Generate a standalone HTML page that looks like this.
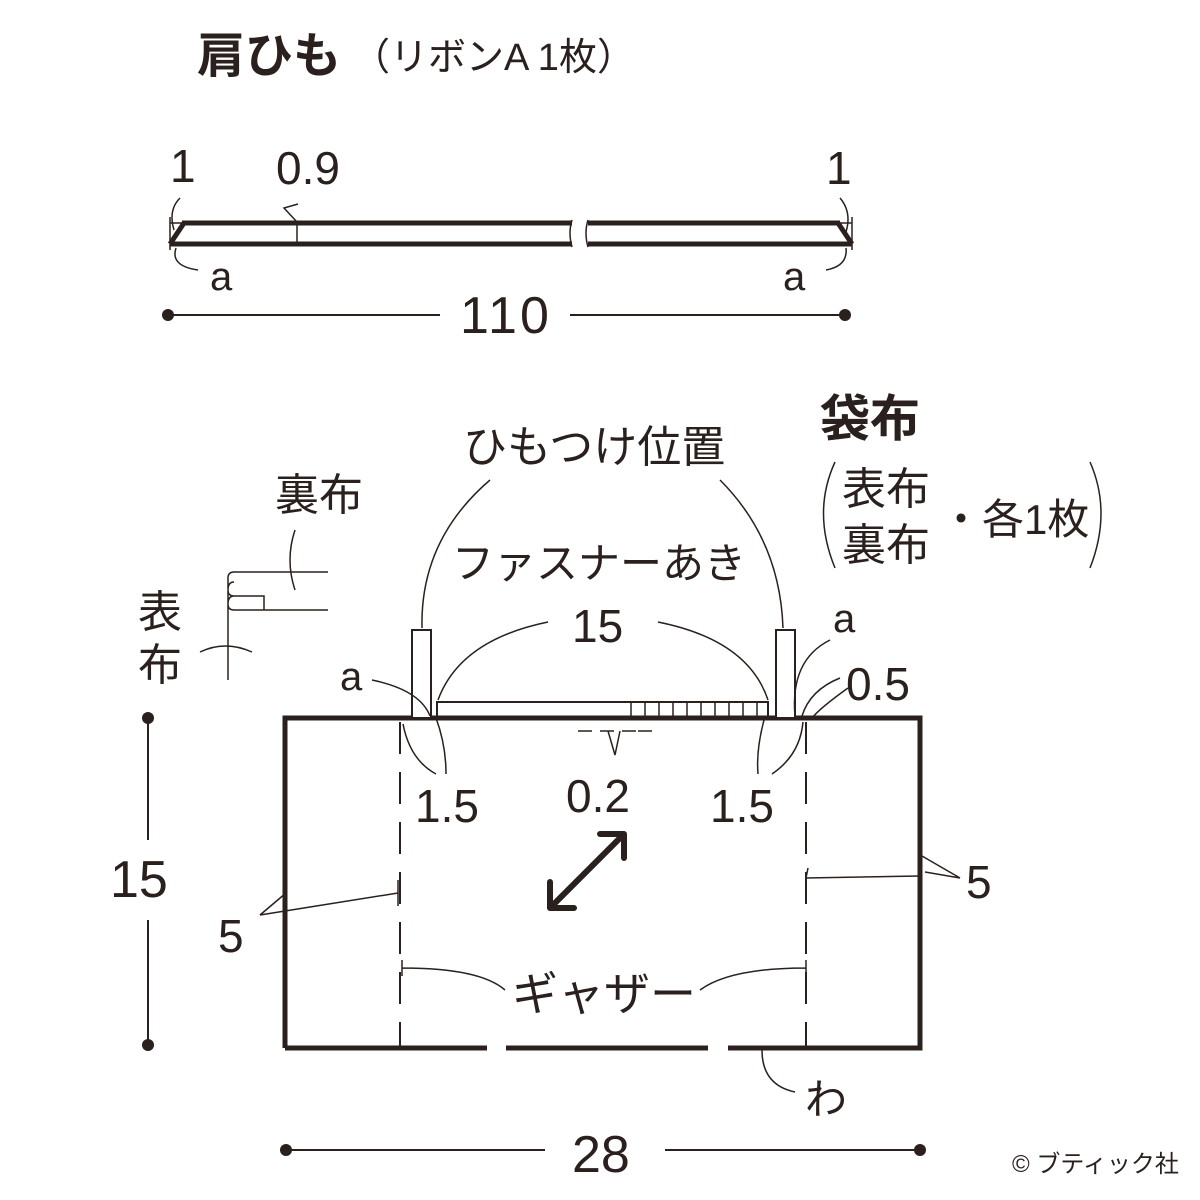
<!DOCTYPE html>
<html><head><meta charset="utf-8"><style>
html,body{margin:0;padding:0;background:#fff}
svg{display:block}
text{font-family:"Liberation Sans","Noto Sans CJK JP",sans-serif;fill:#2a201d}
</style></head><body>
<svg width="1200" height="1200" viewBox="0 0 1200 1200" xmlns="http://www.w3.org/2000/svg">
<g stroke="#2a201d" fill="none" stroke-linecap="butt">
<line x1="170" y1="223" x2="182" y2="223" stroke-width="1.5"/>
<line x1="182" y1="223" x2="572" y2="223" stroke-width="5"/>
<line x1="170" y1="244" x2="572" y2="244" stroke-width="5"/>
<line x1="170" y1="244" x2="184" y2="223" stroke-width="5"/>
<line x1="170" y1="217" x2="170" y2="250" stroke-width="1.5"/>
<line x1="588" y1="223" x2="840" y2="223" stroke-width="5"/>
<line x1="588" y1="244" x2="852" y2="244" stroke-width="5"/>
<line x1="838" y1="223" x2="852" y2="244" stroke-width="5"/>
<line x1="840" y1="223" x2="852" y2="223" stroke-width="1.5"/>
<line x1="852" y1="217" x2="852" y2="250" stroke-width="1.5"/>
<path d="M572 220 Q568 233 572 247 M588 220 Q584 233 588 247" stroke-width="1.5"/>
<path d="M297 245 L297 222 L284 208 L298 204" stroke-width="1.5"/>
<path d="M180 198 Q168 210 174 230 M176 248 Q170 266 198 270" stroke-width="1.5"/>
<path d="M840 198 Q852 212 846 232 M846 248 Q848 266 826 270" stroke-width="1.5"/>
<line x1="168" y1="315" x2="440" y2="315" stroke-width="2"/>
<line x1="570" y1="315" x2="845" y2="315" stroke-width="2"/>
<path d="M285 1048 L285 718 L920 718 L920 1048 L728 1048" stroke-width="5"/>
<line x1="285" y1="1048" x2="487" y2="1048" stroke-width="5"/>
<line x1="506" y1="1048" x2="708" y2="1048" stroke-width="5"/>
<line x1="400" y1="722" x2="400" y2="1048" stroke-width="2" stroke-dasharray="32,18"/>
<line x1="806" y1="722" x2="806" y2="1048" stroke-width="2" stroke-dasharray="32,18"/>
<rect x="412" y="630" width="19" height="88" stroke-width="2" fill="#fff"/>
<rect x="776" y="630" width="19" height="88" stroke-width="2" fill="#fff"/>
<rect x="437" y="702" width="331" height="16" stroke-width="2"/>
<path d="M631 718V702M645 718V702M659 718V702M673 718V702M687 718V702M701 718V702M715 718V702M729 718V702M743 718V702M757 718V702" stroke-width="1.5"/>
<path d="M578 731h14M600 731h14M622 731h14M638 731h14M608 731 L615 755 L620 731" stroke-width="1.5"/>
<path d="M490 480 Q420 540 422 628 M720 480 Q780 540 783 628" stroke-width="1.5"/>
<path d="M548 622 Q460 640 438 700 M658 622 Q748 640 768 700" stroke-width="1.5"/>
<path d="M372 680 Q420 690 430 716" stroke-width="1.5"/>
<path d="M830 640 Q790 660 795 716" stroke-width="1.5"/>
<path d="M840 678 Q810 690 802 716 M848 688 Q820 708 812 718" stroke-width="1.5"/>
<path d="M403 724 Q410 760 436 774 M436 718 Q446 745 446 774" stroke-width="1.5"/>
<path d="M764 720 Q756 750 758 774 M803 722 Q800 755 772 774" stroke-width="1.5"/>
<line x1="148" y1="718" x2="148" y2="840" stroke-width="2"/>
<line x1="148" y1="920" x2="148" y2="1045" stroke-width="2"/>
<line x1="286" y1="1150" x2="545" y2="1150" stroke-width="2"/>
<line x1="665" y1="1150" x2="920" y2="1150" stroke-width="2"/>
<path d="M260 915 L398 893 M260 915 L286 893 M398 880v26" stroke-width="1.5"/>
<path d="M808 868 L806 878 L920 876 M960 878 L922 856 M960 878 L925 872" stroke-width="1.5"/>
<path d="M402 968 Q480 968 505 990 M806 968 Q730 968 700 990 M402 960v16 M806 960v16" stroke-width="1.5"/>
<path d="M762 1050 Q762 1085 795 1092" stroke-width="1.5"/>
<path d="M550 908 L624 834 M550 908 L550 882 M550 908 L574 908 M624 834 L600 834 M624 834 L624 858" stroke-width="6" stroke-linecap="round" stroke-linejoin="round"/>
<path d="M228 680 L228 578 Q228 572 234 572 L328 572 M234 610 L328 610 M234 596 L264 596 L264 610 M234 582 Q228 582 228 590 Q228 596 234 596 M234 596 Q228 596 228 604 Q228 610 234 610" stroke-width="1.5"/>
<path d="M295 530 Q285 560 295 590 M200 652 Q225 640 252 652" stroke-width="1.5"/>
<path d="M835 462 Q812 512 835 568 M1090 462 Q1112 512 1090 568" stroke-width="1.5"/>
</g>
<g fill="#2a201d">
<circle cx="168" cy="315" r="6"/><circle cx="845" cy="315" r="6"/>
<circle cx="148" cy="718" r="6"/><circle cx="148" cy="1045" r="6"/>
<circle cx="286" cy="1150" r="6"/><circle cx="920" cy="1150" r="6"/>
</g>
<text x="197" y="72" font-size="48" font-weight="bold">肩ひも</text>
<text x="352" y="70" font-size="38">（リボンA 1枚）</text>
<text x="170" y="182" font-size="46">1</text>
<text x="276" y="184" font-size="46">0.9</text>
<text x="826" y="184" font-size="46">1</text>
<text x="210" y="290" font-size="40">a</text>
<text x="783" y="290" font-size="40">a</text>
<text x="460" y="333" font-size="52" letter-spacing="3">110</text>
<text x="463" y="462" font-size="44">ひもつけ位置</text>
<text x="820" y="436" font-size="50" font-weight="bold">袋布</text>
<text x="842" y="504" font-size="44">表布</text>
<text x="842" y="560" font-size="44">裏布</text>
<text x="940" y="534" font-size="42">・各1枚</text>
<text x="275" y="510" font-size="44">裏布</text>
<text x="138" y="627" font-size="44">表</text>
<text x="138" y="680" font-size="44">布</text>
<text x="452" y="578" font-size="42">ファスナーあき</text>
<text x="572" y="642" font-size="46">15</text>
<text x="833" y="632" font-size="40">a</text>
<text x="340" y="690" font-size="40">a</text>
<text x="846" y="700" font-size="46">0.5</text>
<text x="415" y="822" font-size="46">1.5</text>
<text x="566" y="812" font-size="46">0.2</text>
<text x="710" y="822" font-size="46">1.5</text>
<text x="110" y="897" font-size="52">15</text>
<text x="218" y="952" font-size="46">5</text>
<text x="966" y="898" font-size="46">5</text>
<text x="512" y="1010" font-size="46">ギャザー</text>
<text x="805" y="1114" font-size="42">わ</text>
<text x="572" y="1172" font-size="52">28</text>
<text x="1012" y="1172" font-size="24">© ブティック社</text>
</svg>
</body></html>
